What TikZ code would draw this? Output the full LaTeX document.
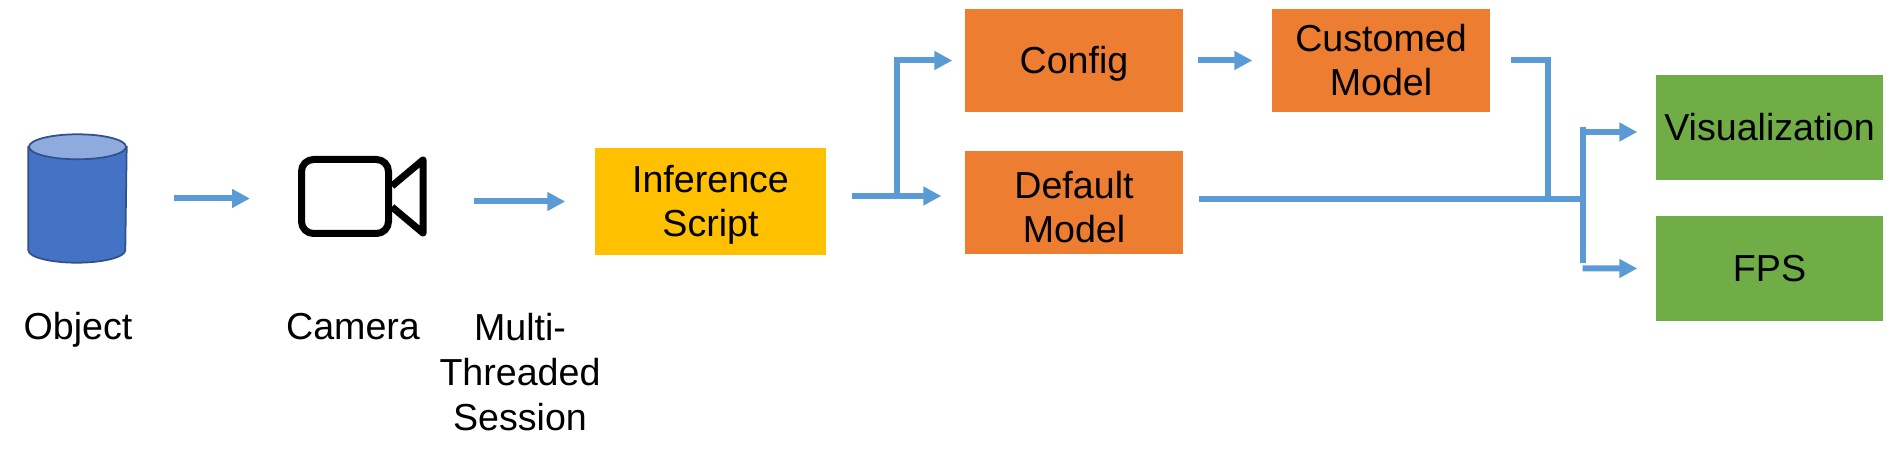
\documentclass[tikz,border=0pt]{standalone}
\usepackage{fontspec}
\setmainfont{Liberation Sans}
\usetikzlibrary{arrows.meta,calc}
\definecolor{flowblue}{HTML}{5B9BD5}
\definecolor{boxorange}{HTML}{ED7D31}
\definecolor{boxyellow}{HTML}{FFC000}
\definecolor{boxgreen}{HTML}{70AD47}
\definecolor{drumblue}{HTML}{4472C4}
\definecolor{drumtop}{HTML}{8FAADC}
\definecolor{drumline}{HTML}{2F528F}
\newcommand{\topline}[1][.34cm]{\rule{0pt}{#1}}
\newcommand{\botline}{\rule[-.08cm]{0pt}{.08cm}}
\tikzset{
  every node/.style={font=\fontsize{10.7pt}{12.8pt}\selectfont,align=center,inner sep=0pt},
  wire/.style={draw=flowblue,line width=.06cm},
  flow/.style={wire,-{Triangle[length=.18cm,width=.18cm]}},
  cell/.style={minimum width=2.18cm,minimum height=1.03cm},
  drum/.style={draw=drumline,line width=.5pt},
  icon/.style={draw=black,line width=.07cm,line join=round}
}
\begin{document}
\begin{tikzpicture}
\useasboundingbox (0,0) rectangle (19.02,4.62);
\node[minimum width=.97cm,minimum height=1.27cm] (obj) at (.775,2.635) {};
\node[icon,rounded corners=.12cm,minimum width=.87cm,minimum height=.74cm] (cam) at (3.45,2.655) {};
\node[cell,fill=boxyellow,minimum width=2.31cm,minimum height=1.07cm] (inf) at (7.105,2.605) {\topline Inference\\Script\botline};
\node[cell,fill=boxorange] (cfg) at (10.74,4.015) {\topline Config\botline};
\node[cell,fill=boxorange] (dflt) at (10.74,2.595) {\topline[.44cm]Default\\Model\botline};
\node[cell,fill=boxorange] (cust) at (13.81,4.015) {\topline Customed\\Model\botline};
\node[cell,fill=boxgreen,minimum width=2.27cm,minimum height=1.05cm] (vis) at (17.695,3.345) {\topline Visualization\botline};
\node[cell,fill=boxgreen,minimum width=2.27cm,minimum height=1.05cm] (fps) at (17.695,1.935) {\topline FPS\botline};
\node[anchor=base] (objlabel) at (.78,1.22) {Object};
\node[anchor=base] (camlabel) at (3.53,1.22) {Camera};
\node (mts) at (5.2,.9) {Multi-\\Threaded\\Session};
\coordinate (split) at ([shift={(.25,.055)}]inf.east);
\coordinate (branch) at ([xshift=.45cm]split);
\coordinate (bstart) at ([shift={(.15,.035)}]dflt.east);
\coordinate (join) at ([shift={(3.64,.035)}]dflt.east);
\coordinate (bus) at ([shift={(3.99,.035)}]dflt.east);
\draw[drum,fill=drumblue] ([yshift=-.125cm]obj.north west) -- ([yshift=.125cm]obj.south west) arc[start angle=180,end angle=360,x radius=.485,y radius=.125] -- ([yshift=-.125cm]obj.north east) -- cycle;
\draw[drum,fill=drumtop] ([yshift=-.125cm]obj.north) ellipse[x radius=.485,y radius=.125];
\draw[icon] ([yshift=.105cm]cam.east) -- ++(.31,.26) -- ++(0,-.73) -- ([yshift=-.105cm]cam.east);
\draw[flow] ([xshift=.47cm]obj.east) -- ([xshift=-.48cm]obj.east -| cam.west);
\draw[flow] ([xshift=.82cm]cam.east |- inf.west) -- ([xshift=-.29cm]inf.west);
\draw[flow] (split) -- ([xshift=-.23cm]split -| dflt.west);
\draw[flow] (branch) |- ([xshift=-.12cm]cfg.west);
\draw[flow] ([xshift=.14cm]cfg.east) -- ([xshift=-.19cm]cust.west);
\draw[wire] ([xshift=.2cm]cust.east) -| (join);
\draw[wire] (bstart) -- (bus);
\draw[wire] ([yshift=.72cm]bus) -- ([yshift=-.64cm]bus);
\draw[flow] ([yshift=.67cm]bus) -- ([shift={(-.18,-.045)}]vis.west);
\draw[flow] ([yshift=-.695cm]bus) -- ([xshift=-.18cm]fps.west);
\end{tikzpicture}
\end{document}
